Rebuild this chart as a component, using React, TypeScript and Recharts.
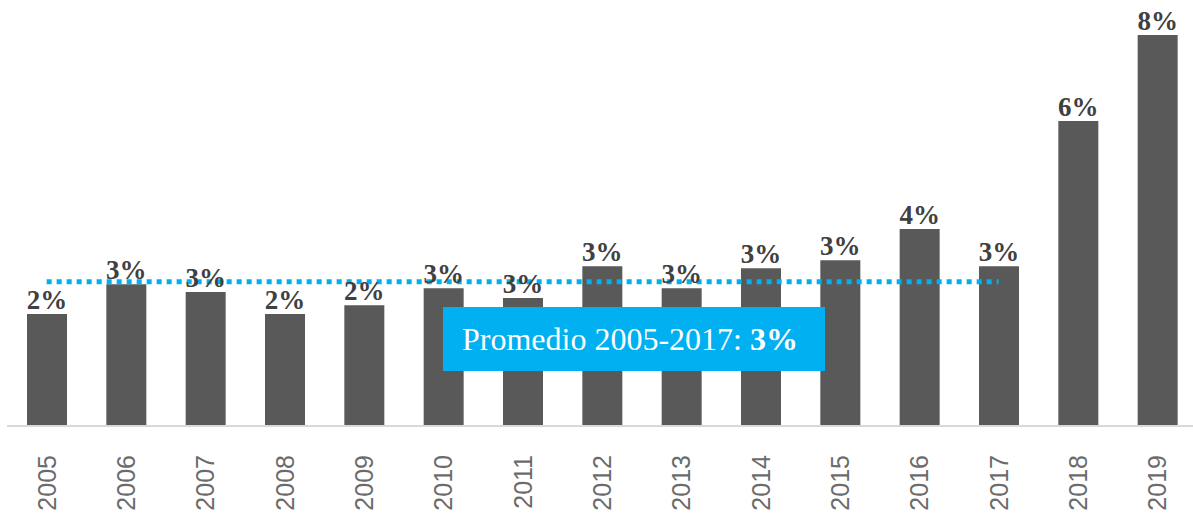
import React from 'react';
import { BarChart, Bar, XAxis, YAxis, LabelList, ReferenceLine } from 'recharts';

const YEARS = ['2005', '2006', '2007', '2008', '2009', '2010', '2011', '2012', '2013', '2014', '2015', '2016', '2017', '2018', '2019'];
const VALUES = [2.29, 2.9, 2.74, 2.29, 2.47, 2.82, 2.62, 3.27, 2.82, 3.23, 3.39, 4.03, 3.27, 6.24, 8.0];
const AVERAGE = 2.95;
const AVG_FROM = '2005';
const AVG_TO = '2017';

const data = YEARS.map((year, i) => ({ year, value: VALUES[i] }));

const YearTick = (props: any) => {
  const { x, y, payload } = props;
  return (
    <g transform={`translate(${x},${y + 21})`}>
      <text
        transform="rotate(-90)"
        textAnchor="end"
        dy="0.36em"
        fill="#6b6b6b"
        fontSize={25}
        fontFamily="'Liberation Sans', Arial, sans-serif"
      >
        {payload.value}
      </text>
    </g>
  );
};

export default function App() {
  return (
    <div style={{ position: 'absolute', left: 0, top: 0, width: 1193, height: 513, overflow: 'hidden', background: '#fff' }}>
      <BarChart width={1197} height={513} data={data} margin={{ top: 35, right: 0, left: 7, bottom: 0 }}>
        <XAxis
          dataKey="year"
          height={87}
          tickLine={false}
          axisLine={{ stroke: '#d9d9d9', strokeWidth: 2 }}
          tick={<YearTick />}
          interval={0}
        />
        <YAxis hide domain={[0, 8]} />
        <Bar dataKey="value" fill="#595959" barSize={40} isAnimationActive={false}>
          <LabelList
            dataKey="value"
            position="top"
            offset={5}
            formatter={(v: number) => `${Math.round(v)}%`}
            style={{ fill: '#404040', fontSize: 27, fontWeight: 'bold', fontFamily: "'Liberation Serif', serif" }}
          />
        </Bar>
        <ReferenceLine
          segment={[{ x: AVG_FROM, y: AVERAGE }, { x: AVG_TO, y: AVERAGE }]}
          stroke="#00b0f0"
          strokeWidth={5}
          strokeDasharray="5 5"
        />
      </BarChart>
      <div
        style={{
          position: 'absolute',
          left: 443,
          top: 307,
          width: 382,
          height: 64,
          background: '#00b0f0',
          color: '#fff',
          fontFamily: "'Liberation Serif', serif",
          fontSize: 32,
          lineHeight: '64px',
          paddingLeft: 19,
          boxSizing: 'border-box',
          whiteSpace: 'nowrap',
        }}
      >
        Promedio 2005-2017: <b>3%</b>
      </div>
    </div>
  );
}
